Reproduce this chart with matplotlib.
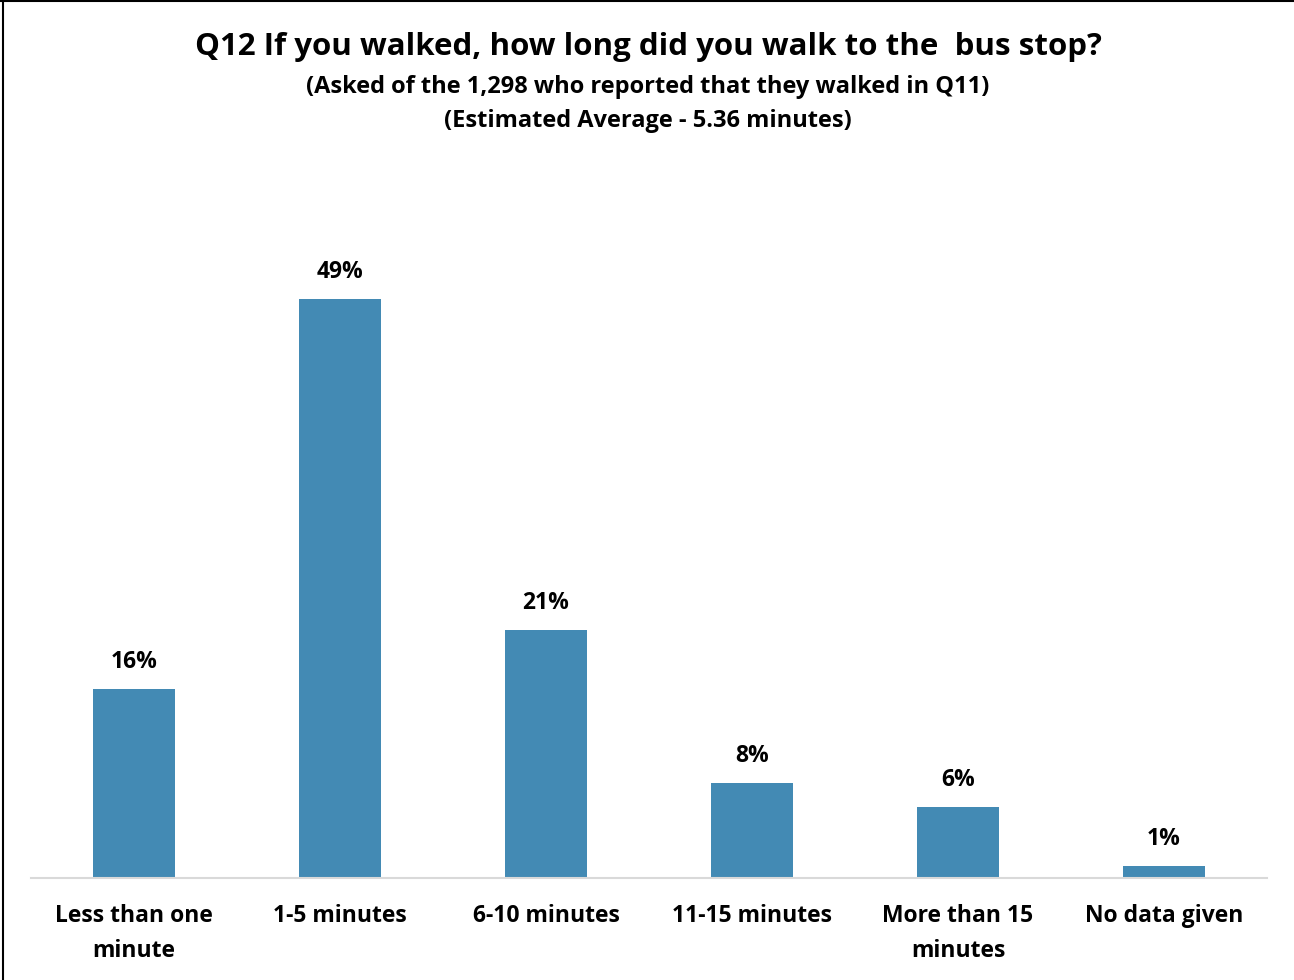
import numpy as np
import matplotlib.pyplot as plt

categories = ['Less than one\nminute', '1-5 minutes', '6-10 minutes',
              '11-15 minutes', 'More than 15\nminutes', 'No data given']
values = [16, 49, 21, 8, 6, 1]

plt.rcParams['font.family'] = ['Open Sans', 'DejaVu Sans']

fig = plt.figure(figsize=(12.94, 9.8), dpi=100)
W, H = 1294, 980
ax = fig.add_axes([31 / W, (H - 878) / H, (1267 - 31) / W, (878 - 180) / H])

x = np.arange(len(categories))
ax.bar(x, values, width=0.4, color='#438AB4')
ax.set_xlim(-0.5, len(categories) - 0.5)
ax.set_ylim(0, (878 - 180) / 11.82)

for xi, v in zip(x, values):
    ax.annotate(f'{v}%', (xi, v), xytext=(0, 11), textcoords='offset points',
                ha='center', va='bottom', fontsize=16.5, fontweight='bold')

ax.set_xticks(x)
ax.set_xticklabels(categories, fontsize=16.5, fontweight='bold', linespacing=1.6)
ax.tick_params(axis='x', length=0, pad=19)
ax.set_yticks([])
for s in ['left', 'right', 'top']:
    ax.spines[s].set_visible(False)
ax.spines['bottom'].set_color('#D9D9D9')
ax.spines['bottom'].set_linewidth(1.5)

fig.text(648 / W, 1 - 47 / H, 'Q12 If you walked, how long did you walk to the  bus stop?',
         ha='center', va='center', fontsize=22.5, fontweight='bold')
fig.text(648 / W, 1 - 87 / H, '(Asked of the 1,298 who reported that they walked in Q11)',
         ha='center', va='center', fontsize=17, fontweight='bold')
fig.text(648 / W, 1 - 121 / H, '(Estimated Average - 5.36 minutes)',
         ha='center', va='center', fontsize=17, fontweight='bold')

# frame on left and top
fig.add_artist(plt.Line2D([2.5 / W, 2.5 / W], [0, 1 - 1 / H], color='black', lw=1.5))
fig.add_artist(plt.Line2D([0, 1], [1 - 1.5 / H, 1 - 1.5 / H], color='black', lw=1.5))

fig.savefig('out.png', dpi=100)
